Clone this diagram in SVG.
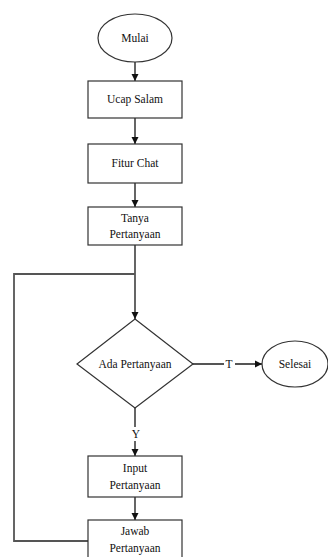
<svg xmlns="http://www.w3.org/2000/svg" width="328" height="557" viewBox="0 0 328 557">
<style>
.n{fill:#fff;stroke:#333;stroke-width:1.2}
.t{font-family:"Liberation Serif","DejaVu Serif",serif;font-size:11.5px;fill:#111;text-anchor:middle}
.c{fill:none;stroke:#555;stroke-width:1.8}
</style>
<defs>
<marker id="a" markerWidth="8" markerHeight="8" refX="7" refY="4" orient="auto" markerUnits="userSpaceOnUse">
<path d="M0,0.5 L7,4 L0,7.5 Z" fill="#111"/>
</marker>
</defs>
<rect width="328" height="557" fill="#fff"/>
<g id="connectors">
<path class="c" d="M135,62 V81" marker-end="url(#a)"/>
<path class="c" d="M135,118 V144" marker-end="url(#a)"/>
<path class="c" d="M135,183 V207" marker-end="url(#a)"/>
<path class="c" d="M135,245 V319" marker-end="url(#a)"/>
<path class="c" d="M88,541 H14 V274 H135"/>
<path class="c" d="M193,364 H224 M235,364 H262" marker-end="url(#a)"/>
<path class="c" d="M135,408 V427 M135,441 V456" marker-end="url(#a)"/>
<path class="c" d="M135,497 V520" marker-end="url(#a)"/>
<text class="t" x="229" y="368">T</text>
<text class="t" x="136" y="438">Y</text>
</g>
<g id="mulai"><ellipse class="n" cx="135" cy="38" rx="37" ry="24"/><text class="t" x="135" y="42">Mulai</text></g>
<g id="ucap"><rect class="n" x="88" y="81" width="94" height="37"/><text class="t" x="135" y="103">Ucap Salam</text></g>
<g id="fitur"><rect class="n" x="88" y="144" width="94" height="39"/><text class="t" x="135" y="167">Fitur Chat</text></g>
<g id="tanya"><rect class="n" x="88" y="207" width="94" height="38"/><text class="t" x="135" y="222">Tanya</text><text class="t" x="135" y="238">Pertanyaan</text></g>
<g id="ada"><polygon class="n" points="135,319 193,364 135,408 77,364"/><text class="t" x="135" y="368">Ada Pertanyaan</text></g>
<g id="selesai"><ellipse class="n" cx="295" cy="364" rx="33" ry="23"/><text class="t" x="295" y="368">Selesai</text></g>
<g id="input"><rect class="n" x="88" y="456" width="94" height="41"/><text class="t" x="135" y="472">Input</text><text class="t" x="135" y="489">Pertanyaan</text></g>
<g id="jawab"><rect class="n" x="88" y="520" width="94" height="40"/><text class="t" x="135" y="535">Jawab</text><text class="t" x="135" y="552">Pertanyaan</text></g>
</svg>
